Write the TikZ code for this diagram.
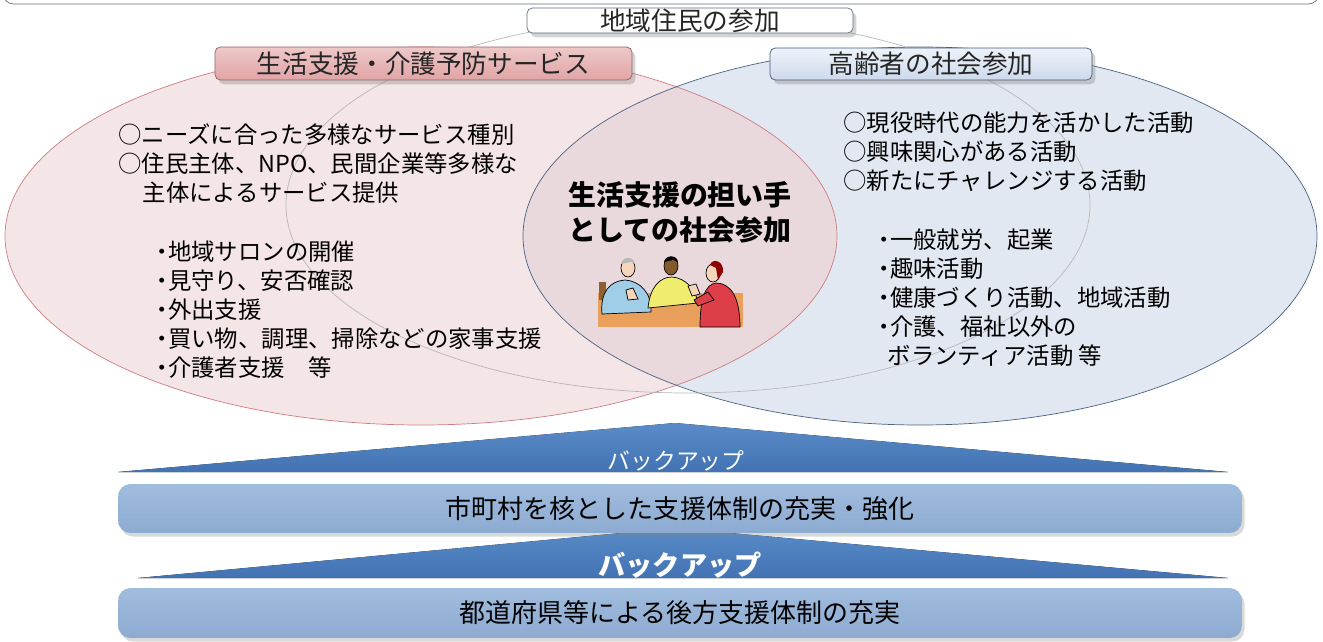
\documentclass[tikz,border=0pt]{standalone}
\usepackage{fontspec}
\setmainfont{Noto Sans CJK JP}
\usepackage{tikz}
\usetikzlibrary{shadows}
\definecolor{pinkfill}{RGB}{244,229,230}
\definecolor{bluefill}{RGB}{226,232,242}
\definecolor{lensfill}{RGB}{233,217,221}
\definecolor{pinkline}{RGB}{205,125,130}
\definecolor{blueline}{RGB}{75,98,130}
\definecolor{frameline}{RGB}{95,110,130}
\definecolor{pinktop}{RGB}{238,200,200}
\definecolor{pinkbot}{RGB}{224,164,166}
\definecolor{pinkedge}{RGB}{150,95,98}
\definecolor{bluetop}{RGB}{238,243,250}
\definecolor{bluebot}{RGB}{205,218,236}
\definecolor{blueedge}{RGB}{70,88,115}
\definecolor{tritop}{RGB}{90,140,200}
\definecolor{tribot}{RGB}{66,114,178}
\definecolor{bartop}{RGB}{160,188,222}
\definecolor{barbot}{RGB}{141,171,209}
\definecolor{tablecol}{RGB}{232,160,92}
\definecolor{shirtblue}{RGB}{160,205,232}
\definecolor{shirtyellow}{RGB}{240,236,110}
\definecolor{shirtred}{RGB}{222,62,72}
\definecolor{skin}{RGB}{246,214,186}
\newcommand\bul{\makebox[0.55em][c]{・}}

\begin{document}
\begin{tikzpicture}[x=0.02cm,y=-0.02cm,
    head/.style={draw,rounded corners=3pt,inner sep=0pt,text=black!85,
      font=\fontsize{14.6}{16}\selectfont,
      drop shadow={shadow xshift=2pt,shadow yshift=-2.5pt,opacity=.35}},
    list/.style={anchor=west,align=left,inner sep=0pt,
      font=\fontsize{13.3}{16.5}\selectfont},
    bar/.style={rounded corners=7pt,top color=bartop,bottom color=barbot,
      minimum width=22.48cm,inner sep=0pt,font=\fontsize{14.8}{16}\selectfont,
      drop shadow={shadow xshift=1.5pt,shadow yshift=-2pt,opacity=.3}},
    tri/.style={top color=tritop,bottom color=tribot},
    backup/.style={text=white,inner sep=0pt}]
  \useasboundingbox (0,0) rectangle (1323,642);
  % outer frame, only its lower edge shows
  \draw[frameline,rounded corners=6pt] (3,-30) -- (3,4) -- (1319,4) -- (1319,-30);

  % the three circles
  \fill[pinkfill] (421,236) ellipse [x radius=416,y radius=189];
  \fill[bluefill] (920,236) ellipse [x radius=397,y radius=189];
  \begin{scope}
    \clip (421,236) ellipse [x radius=416,y radius=189];
    \fill[lensfill] (920,236) ellipse [x radius=397,y radius=189];
  \end{scope}
  \draw[pinkline] (421,236) ellipse [x radius=416,y radius=189];
  \draw[blueline] (920,236) ellipse [x radius=397,y radius=189];
  \draw[black!28] (688,205) ellipse [x radius=402,y radius=188];

  \node[head,fill=white,draw=frameline,minimum width=6.52cm,minimum height=0.5cm] (resident) at (690,20.5) {地域住民の参加};
  \node[head,draw=pinkedge,top color=pinktop,bottom color=pinkbot,minimum width=8.34cm,minimum height=0.66cm] (service) at (423.5,63.5) {生活支援・介護予防サービス};
  \node[head,draw=blueedge,top color=bluetop,bottom color=bluebot,minimum width=6.44cm,minimum height=0.64cm] (elder) at (931,64) {高齢者の社会参加};

  \node[list] (needs) at (118,164) {○ニーズに合った多様なサービス種別\\○住民主体、NPO、民間企業等多様な\\\hspace*{1.05em}主体によるサービス提供};
  \node[list] (salon) at (155,310) {\bul 地域サロンの開催\\\bul 見守り、安否確認\\\bul 外出支援\\\bul 買い物、調理、掃除などの家事支援\\\bul 介護者支援　等};
  \node[list] (active) at (843,152) {○現役時代の能力を活かした活動\\○興味関心がある活動\\○新たにチャレンジする活動};
  \node[list] (hobby) at (877,298) {\bul 一般就労、起業\\\bul 趣味活動\\\bul 健康づくり活動、地域活動\\\bul 介護、福祉以外の\\\hspace*{0.45em}ボランティア活動 等};
  \node[align=center,inner sep=0pt,font=\bfseries\fontsize{15.9}{19.9}\selectfont] (bearer) at (680,212.5) {生活支援の担い手\\としての社会参加};

  % three people at a table
  \fill[tablecol] (598,293) rectangle (743,327);
  \fill[brown!75!black] (599,282) rectangle (606,300);
  \filldraw[fill=shirtblue,line width=0.4pt] (602,314) .. controls (600,292) and (610,281) .. (625,280) .. controls (640,281) and (652,293) .. (651,312) -- cycle;
  \filldraw[fill=skin,line width=0.4pt] (628,268) ellipse [x radius=7,y radius=9];
  \fill[gray!55] (621,264) .. controls (622,256) and (634,256) .. (635,264) -- (631,262) -- cycle;
  \filldraw[fill=skin,line width=0.4pt] (626,290) -- (633,288) -- (638,299) -- (628,300) -- cycle;
  \filldraw[fill=shirtyellow,line width=0.4pt] (648,308) .. controls (650,287) and (660,277) .. (672,277) .. controls (686,278) and (696,290) .. (698,303) -- cycle;
  \filldraw[fill=brown!70!black,line width=0.4pt] (671,266) ellipse [x radius=7,y radius=9];
  \fill[black] (664,262) .. controls (665,255) and (677,254) .. (678,262) -- (673,260) -- cycle;
  \filldraw[fill=skin,line width=0.4pt] (688,286) -- (696,284) -- (700,294) -- (692,296) -- cycle;
  \filldraw[fill=shirtred,line width=0.4pt] (700,327) .. controls (700,300) and (705,284) .. (716,283) .. controls (730,283) and (740,296) .. (740,327) -- cycle;
  \filldraw[fill=shirtred,line width=0.4pt] (708,292) -- (694,300) -- (698,306) -- (714,300) -- cycle;
  \filldraw[fill=skin,line width=0.4pt] (713,273) ellipse [x radius=7,y radius=9];
  \fill[red!55!black] (710,265) .. controls (712,258) and (724,260) .. (723,272) -- (718,280) -- (716,268) -- cycle;

  % back-up layers
  \fill[tri] (118,472) -- (675,423) -- (1228,472) -- cycle;
  \node[backup,font=\fontsize{13}{14}\selectfont] (backup1) at (676,461) {バックアップ};
  \fill[tri] (138,578) -- (675,528) -- (1228,578) -- cycle;
  \node[bar,minimum height=0.98cm] (city) at (680,508.5) {市町村を核とした支援体制の充実・強化};
  \node[backup,font=\bfseries\fontsize{15.5}{16}\selectfont] (backup2) at (680,565) {バックアップ};
  \node[bar,minimum height=1cm] (pref) at (680,613) {都道府県等による後方支援体制の充実};
\end{tikzpicture}
\end{document}
